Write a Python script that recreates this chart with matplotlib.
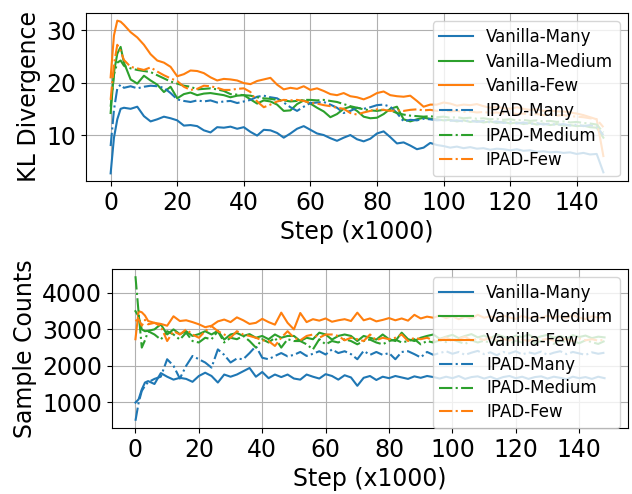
import matplotlib
matplotlib.use("Agg")
import matplotlib.pyplot as plt

steps = [0, 1, 2, 3, 4, 6, 8, 10, 12, 14, 16, 18, 20, 22, 24, 26, 28, 30, 32, 34, 36, 38, 40,
         42, 44, 46, 48, 50, 52, 54, 56, 58, 60, 62, 64, 66, 68, 70, 72, 74, 76, 78, 80,
         82, 84, 86, 88, 90, 92, 94, 96, 98, 100, 102, 104, 106, 108, 110, 112, 114, 116,
         118, 120, 122, 124, 126, 128, 130, 132, 134, 136, 138, 140, 142, 144, 146, 148]

labels = ["Vanilla-Many", "Vanilla-Medium", "Vanilla-Few", "IPAD-Many", "IPAD-Medium", "IPAD-Few"]

# ---- KL divergence ----
kl_vanilla_many = [2.7, 9.5, 13.0, 15.0, 15.2, 15.0, 15.4, 13.6, 12.6, 13.0, 13.5, 13.2, 12.8, 11.8, 11.9, 11.7,
                   10.9, 10.5, 11.5, 11.4, 11.6, 11.2, 11.5, 10.6, 9.9, 11.0, 10.9, 10.4, 9.5, 10.3, 11.2, 11.7,
                   11.0, 10.3, 10.0, 9.4, 8.9, 9.5, 10.0, 9.2, 8.8, 9.3, 10.3, 10.7, 9.6, 8.4, 8.6, 8.0, 7.3,
                   7.6, 8.5, 8.1, 7.9, 7.6, 7.8, 7.5, 7.7, 7.4, 7.5, 7.2, 7.4, 7.3, 7.1, 7.3, 7.0, 7.1, 6.8,
                   6.9, 6.7, 6.8, 6.6, 6.7, 6.4, 6.6, 6.3, 6.4, 2.9]
kl_vanilla_medium = [14.2, 22.0, 25.5, 26.8, 23.8, 20.6, 19.8, 21.3, 20.4, 19.6, 18.2, 19.2, 17.0, 17.8, 18.1,
                     17.6, 17.9, 18.0, 17.8, 17.6, 17.2, 17.5, 17.6, 16.8, 16.0, 16.6, 16.4, 15.8, 14.6, 14.7,
                     15.9, 16.6, 16.0, 15.2, 14.5, 13.4, 14.0, 15.0, 15.4, 14.6, 13.5, 13.2, 13.3, 14.0, 15.0,
                     15.4, 13.0, 12.6, 13.0, 13.3, 13.1, 13.0, 12.8, 12.9, 12.6, 12.8, 12.5, 12.7, 12.4, 12.6,
                     12.3, 12.5, 12.2, 12.4, 12.1, 12.3, 12.0, 12.2, 11.9, 12.1, 11.8, 11.9, 11.7, 11.8, 11.5,
                     11.4, 9.5]
kl_vanilla_few = [21.0, 29.0, 31.8, 31.6, 31.0, 29.6, 28.6, 27.2, 25.4, 24.2, 23.8, 23.0, 21.2, 21.6, 22.3,
                  22.2, 21.8, 21.0, 20.4, 20.7, 20.6, 20.4, 19.9, 19.7, 20.3, 20.6, 20.9, 19.6, 18.7, 19.0,
                  18.8, 19.3, 18.6, 18.9, 18.4, 17.8, 17.6, 18.0, 17.4, 17.2, 16.8, 17.3, 18.0, 18.3, 17.6,
                  17.4, 17.3, 17.5, 16.5, 15.4, 15.8, 15.8, 16.2, 16.0, 15.6, 15.8, 15.7, 15.9, 15.5, 15.2,
                  15.4, 15.1, 15.0, 15.3, 15.0, 14.8, 14.9, 14.6, 14.7, 14.5, 14.5, 14.3, 14.1, 13.8, 13.4,
                  13.0, 6.0]
kl_ipad_many = [7.9, 14.8, 18.9, 19.6, 19.0, 19.3, 18.9, 19.2, 19.4, 19.3, 19.0, 18.0, 16.8, 16.5, 16.3, 16.6,
                16.4, 16.6, 16.2, 16.4, 16.5, 16.1, 16.4, 16.7, 17.3, 17.5, 17.2, 17.0, 16.2, 15.3, 14.6,
                15.4, 16.1, 16.2, 16.3, 15.8, 15.2, 14.2, 14.6, 15.2, 15.0, 15.3, 15.7, 15.8, 15.4, 14.2,
                12.6, 12.9, 12.8, 13.1, 13.0, 12.8, 12.9, 12.7, 12.8, 12.6, 12.8, 12.5, 12.7, 12.4, 12.6,
                12.3, 12.5, 12.2, 12.4, 12.1, 12.3, 12.0, 12.2, 11.9, 12.1, 11.8, 12.0, 11.7, 11.9, 11.6, 10.0]
kl_ipad_medium = [15.4, 21.5, 23.8, 24.2, 23.2, 22.7, 22.4, 22.2, 22.0, 21.4, 20.8, 20.2, 19.8, 19.4, 19.2,
                  18.7, 18.8, 18.9, 18.7, 18.4, 17.8, 17.7, 17.6, 17.5, 17.2, 17.0, 16.9, 16.7, 16.6, 16.4,
                  16.5, 16.7, 16.7, 16.6, 16.7, 16.5, 16.3, 15.9, 15.5, 15.2, 14.9, 14.7, 14.6, 14.8, 14.7,
                  14.2, 13.9, 13.7, 13.6, 13.5, 13.6, 13.4, 13.5, 13.3, 13.4, 13.2, 13.3, 13.1, 13.2, 13.0,
                  13.1, 12.9, 13.0, 12.8, 12.9, 12.7, 12.8, 12.6, 12.7, 12.5, 12.6, 12.4, 12.5, 12.3, 12.2,
                  12.0, 10.5]
kl_ipad_few = [16.7, 23.5, 27.2, 26.0, 24.3, 23.0, 22.7, 22.4, 22.9, 22.1, 21.4, 20.8, 20.3, 19.2, 18.6, 18.8,
               19.4, 19.3, 19.0, 18.6, 18.6, 18.8, 18.9, 18.2, 16.4, 15.3, 15.8, 16.4, 16.7, 16.6, 16.7, 16.5,
               16.1, 16.0, 15.7, 15.5, 15.2, 15.0, 14.2, 13.9, 14.3, 14.6, 14.9, 14.8, 14.6, 14.7, 14.6, 14.8,
               14.9, 14.7, 14.8, 14.6, 14.7, 14.5, 14.6, 14.4, 14.5, 14.3, 14.4, 14.2, 14.3, 14.1, 14.2, 14.0,
               14.1, 13.9, 14.0, 13.8, 13.9, 13.7, 13.8, 13.6, 13.5, 13.4, 13.2, 13.0, 11.5]

# ---- Sample counts ----
sc_vanilla_many = [990, 1080, 1350, 1540, 1580, 1500, 1800, 1700, 1620, 1670, 1640, 1560, 1720, 1810, 1720,
                   1540, 1760, 1700, 1760, 1850, 1940, 1700, 1830, 1660, 1760, 1690, 1760, 1650, 1620, 1760,
                   1700, 1650, 1770, 1720, 1620, 1740, 1680, 1450, 1670, 1720, 1610, 1700, 1660, 1720, 1680,
                   1640, 1710, 1670, 1720, 1690, 1650, 1700, 1660, 1720, 1640, 1690, 1710, 1650, 1700, 1630,
                   1690, 1720, 1660, 1700, 1640, 1690, 1710, 1650, 1700, 1670, 1630, 1700, 1660, 1690, 1640,
                   1700, 1660]
sc_vanilla_medium = [3500, 3360, 3000, 2950, 2960, 3000, 3140, 2860, 3000, 2870, 2950, 2820, 2870, 2950, 2860,
                     2960, 2720, 2860, 2900, 2820, 2870, 2770, 2820, 2730, 2860, 2770, 2820, 2820, 2680, 2770,
                     2730, 2910, 2860, 2720, 2820, 2860, 2820, 2680, 2820, 2770, 2720, 2860, 2730, 2680, 2910,
                     2730, 2680, 2770, 2820, 2860, 2740, 2800, 2850, 2760, 2820, 2870, 2780, 2830, 2750, 2860,
                     2800, 2740, 2830, 2790, 2860, 2760, 2810, 2850, 2770, 2820, 2740, 2840, 2790, 2830, 2760,
                     2800, 2780]
sc_vanilla_few = [2730, 3500, 3470, 3380, 3230, 3180, 3150, 3100, 3360, 3230, 3250, 3200, 3140, 3060, 3100,
                  3220, 3270, 3200, 3330, 3250, 3150, 3180, 3290, 3200, 3130, 3460, 3180, 3000, 3450, 3200,
                  3280, 3240, 3300, 3210, 3250, 3280, 3230, 3460, 3250, 3300, 3220, 3260, 3310, 3250, 3300,
                  3240, 3400, 3300, 3350, 3320, 3380, 3310, 3360, 3280, 3350, 3300, 3400, 3320, 3360, 3300,
                  3380, 3330, 3290, 3370, 3310, 3350, 3300, 3380, 3320, 3360, 3300, 3390, 3330, 3280, 3360,
                  3320, 3340]
sc_ipad_many = [490, 990, 1310, 1450, 1550, 1640, 1700, 2180, 2000, 1650, 2000, 2270, 2180, 2090, 1950, 2450,
                2300, 2090, 2200, 2180, 2350, 2540, 2220, 2180, 2270, 2350, 2260, 2300, 2380, 2270, 2330,
                2400, 2310, 2450, 2350, 2400, 2320, 2180, 2410, 2300, 2380, 2300, 2350, 2180, 2380, 2400,
                2320, 2230, 2380, 2300, 2350, 2400, 2330, 2380, 2300, 2360, 2410, 2320, 2370, 2290, 2380,
                2340, 2400, 2310, 2370, 2330, 2390, 2300, 2360, 2400, 2320, 2380, 2340, 2300, 2370, 2330, 2360]
sc_ipad_medium = [4460, 3450, 2500, 2700, 2950, 2860, 2720, 2950, 2860, 2720, 2910, 2680, 2640, 2770, 2730,
                  2950, 2640, 2770, 2730, 2820, 2680, 2500, 2730, 2640, 2770, 2500, 2730, 2680, 2680, 2590,
                  2450, 2730, 2590, 2680, 2640, 2730, 2680, 2590, 2680, 2720, 2640, 2590, 2680, 2720, 2640,
                  2680, 2730, 2590, 2680, 2640, 2700, 2650, 2720, 2660, 2600, 2700, 2640, 2690, 2620, 2710,
                  2650, 2600, 2690, 2640, 2710, 2620, 2680, 2650, 2600, 2700, 2640, 2680, 2620, 2700, 2650,
                  2600, 2680]
sc_ipad_few = [3230, 3280, 3100, 3260, 3140, 3180, 3090, 2680, 2950, 2860, 3000, 2860, 2770, 2950, 3090, 2950,
               2860, 2770, 2950, 2860, 2820, 2770, 2700, 2680, 2545, 2770, 2950, 2770, 2700, 2820, 2860, 2770,
               2860, 2860, 2820, 2700, 2770, 2730, 2680, 2860, 2700, 2770, 2730, 2770, 2860, 2680, 2770, 2730,
               2770, 2700, 2720, 2780, 2700, 2740, 2800, 2690, 2750, 2710, 2780, 2700, 2740, 2690, 2770, 2720,
               2680, 2760, 2710, 2740, 2690, 2770, 2720, 2680, 2750, 2700, 2730, 2690, 2720]

colors = ["#1f77b4", "#2ca02c", "#ff7f0e", "#1f77b4", "#2ca02c", "#ff7f0e"]
styles = ["-", "-", "-", "-.", "-.", "-."]

fig = plt.figure(figsize=(6.32, 4.94), dpi=100)
ax1 = fig.add_axes([86 / 632, 1 - 181 / 494, 542 / 632, 168 / 494])
ax2 = fig.add_axes([112 / 632, 1 - 428 / 494, 516 / 632, 159 / 494])

kl_series = [kl_vanilla_many, kl_vanilla_medium, kl_vanilla_few, kl_ipad_many, kl_ipad_medium, kl_ipad_few]
sc_series = [sc_vanilla_many, sc_vanilla_medium, sc_vanilla_few, sc_ipad_many, sc_ipad_medium, sc_ipad_few]

for ys, lab, c, ls in zip(kl_series, labels, colors, styles):
    ax1.plot(steps, ys, color=c, linestyle=ls, linewidth=1.5, label=lab)
for ys, lab, c, ls in zip(sc_series, labels, colors, styles):
    ax2.plot(steps, ys, color=c, linestyle=ls, linewidth=1.5, label=lab)

for ax, ylab in ((ax1, "KL Divergence"), (ax2, "Sample Counts")):
    ax.set_xlabel("Step (x1000)", fontsize=17)
    ax.set_ylabel(ylab, fontsize=17)
    ax.tick_params(labelsize=17)
    ax.set_xticks([0, 20, 40, 60, 80, 100, 120, 140])
    ax.grid(True)

ax1.legend(loc="upper right", fontsize=12, labelspacing=0.4)
ax2.legend(loc="upper right", fontsize=12, labelspacing=0.35)

ax1.set_yticks([10, 20, 30])
ax2.set_yticks([1000, 2000, 3000, 4000])

fig.savefig("out.png", dpi=100)
